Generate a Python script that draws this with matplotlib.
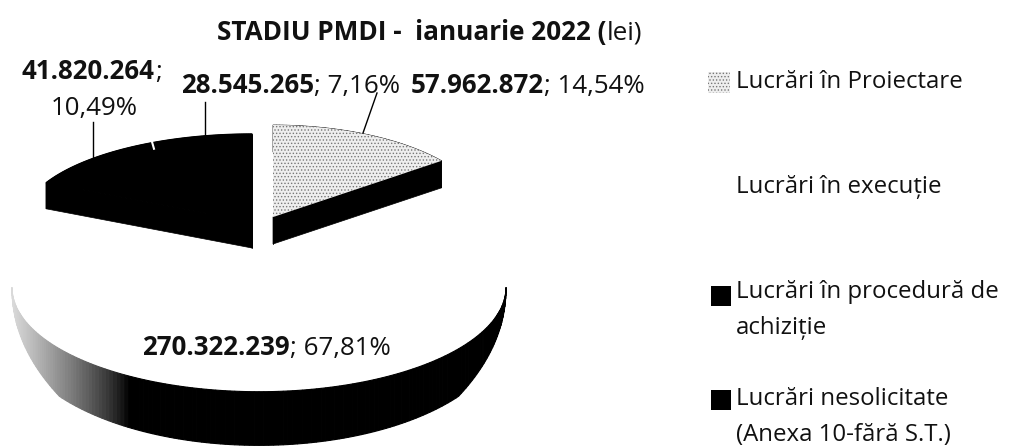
import numpy as np
import matplotlib
matplotlib.use("Agg")
import matplotlib.pyplot as plt

plt.rcParams['font.family'] = ['Open Sans', 'DejaVu Sans']
plt.rcParams['hatch.linewidth'] = 0.6

# values in lei, same order as the legend, clockwise from 12 o'clock
values = [57962872, 270322239, 41820264, 28545265]
value_labels = ["57.962.872", "270.322.239", "41.820.264", "28.545.265"]
percent_labels = ["14,54%", "67,81%", "10,49%", "7,16%"]
legend_labels = ["Lucrări în Proiectare", "Lucrări în execuție",
                 "Lucrări în procedură de\nachiziție",
                 "Lucrări nesolicitate\n(Anexa 10-fără S.T.)"]

W, H = 1011, 446
fig = plt.figure(figsize=(W / 100, H / 100), dpi=100)
ax = fig.add_axes([0, 0, 1, 1])
ax.set_xlim(0, W)
ax.set_ylim(H, 0)
ax.axis("off")

edges = np.concatenate([[0], np.cumsum(values)]) / sum(values) * 360


def project(theta, cx, cy, a, b, p):
    t = np.deg2rad(theta)
    w = 1 + p * np.cos(t)
    return cx + a * np.sin(t) / w, cy - b * np.cos(t) / w, w


def flat_slice(i, cx, cy, a, b, h, color, hatch=None):
    th = np.linspace(edges[i], edges[i + 1], 60)
    x, y, _ = project(th, cx, cy, a, b, 0)
    xs = np.concatenate([[cx], x, [cx]])
    ys = np.concatenate([[cy], y, [cy]])
    # walls: one quad per outline segment
    for j in range(len(xs) - 1):
        ax.fill([xs[j], xs[j + 1], xs[j + 1], xs[j]],
                [ys[j], ys[j + 1], ys[j + 1] + h, ys[j] + h],
                color="black", lw=0.5, zorder=3)
    if hatch:
        ax.fill(xs, ys, facecolor=color, edgecolor="#777777", hatch=hatch, lw=0, zorder=4)
    else:
        ax.fill(xs, ys, color=color, lw=1, zorder=4)


# big slice: rim seen in perspective, its top is white
cx, cy, a, b, p, h0 = 259, 247, 228, 89, 0.385, 33
tip = np.rad2deg(np.arccos(-p))
th = np.linspace(tip, 360 - tip, 181)
x, y, w = project(th, cx, cy, a, b, p)
fade = np.minimum(1, np.minimum(th - tip, 360 - tip - th) / 30) ** 0.85
yb = y + h0 / w * fade
for j in range(len(th) - 1):
    mid = (x[j] + x[j + 1]) / 2
    g = str(np.clip((128 - mid) / 115, 0, 1) ** 0.8 * 0.85)
    ax.fill([x[j], x[j + 1], x[j + 1], x[j]], [y[j], y[j + 1], yb[j + 1], yb[j]],
            facecolor=g, edgecolor=g, lw=0.8, zorder=2)

# exploded slices
flat_slice(0, 273, 217, 213, 92, 27, "#eeeeee", hatch=".....")
flat_slice(2, 252, 222, 230, 88, 26, "black")
flat_slice(3, 252, 222, 230, 88, 26, "black")

# small nick between the two black slices
nx, ny, _ = project(edges[3], 252, 222, 230, 88, 0)
ax.plot([nx, nx + 2], [ny - 1, ny + 6], color="white", lw=1.5, zorder=5)

# leader lines
ax.plot([377, 363], [93, 133], color="black", lw=1, zorder=5)
ax.plot([93, 93], [122, 160], color="black", lw=1, zorder=5)
ax.plot([205, 205], [102, 135], color="black", lw=1, zorder=5)


def runs(x, y, parts, size):
    # text with bold and regular pieces on one line
    r = fig.canvas.get_renderer()
    inv = ax.transData.inverted()
    for s, weight in parts:
        t = ax.text(x, y, s, fontsize=size, fontweight=weight, color="#111111",
                    ha="left", va="baseline", zorder=6)
        bb = t.get_window_extent(r)
        x = inv.transform((bb.x1, bb.y0))[0]
    return x


runs(217, 40, [("STADIU PMDI -  ianuarie 2022 (", "bold"), ("lei)", "normal")], 18.8)

runs(22, 79, [(value_labels[2], "bold"), (";", "normal")], 18.6)
ax.text(94, 108, percent_labels[2], fontsize=18.6, color="#111111", ha="center", va="center", zorder=6)
runs(181, 93, [(value_labels[3], "bold"), ("; " + percent_labels[3], "normal")], 18.6)
runs(411, 93, [(value_labels[0], "bold"), ("; " + percent_labels[0], "normal")], 18.6)
runs(142, 355, [(value_labels[1], "bold"), ("; " + percent_labels[1], "normal")], 18.6)

# legend
legend_y = [82, 187, 292, 399]
marker_y = [296, 400]
ax.fill([708, 730, 730, 708], [72, 72, 93, 93], facecolor="#eeeeee", edgecolor="#777777",
        hatch=".....", lw=0, zorder=4)
for yy in marker_y:
    ax.fill([711, 731, 731, 711], [yy - 10, yy - 10, yy + 10, yy + 10], color="black", lw=0, zorder=4)
for label, yy in zip(legend_labels, legend_y):
    for k, line in enumerate(label.split("\n")):
        ax.text(736, yy + k * 36, line, fontsize=17.3, color="#111111",
                ha="left", va="center", zorder=6)

fig.savefig("out.png", dpi=100)
